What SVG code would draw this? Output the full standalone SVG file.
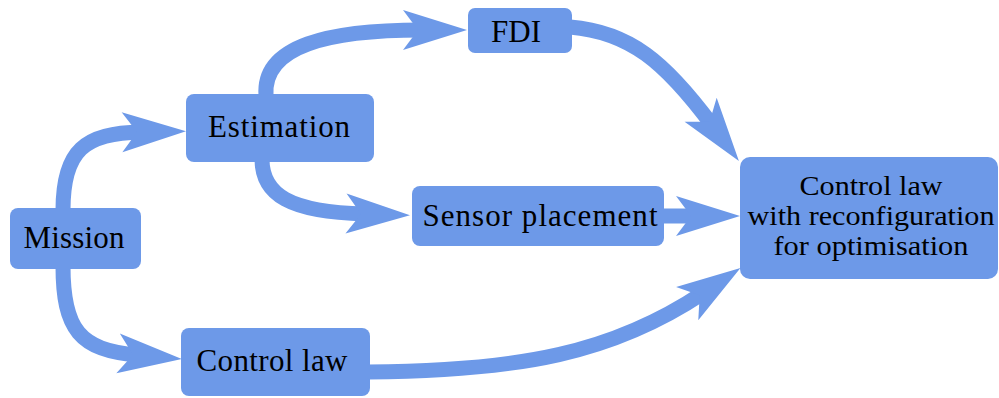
<svg xmlns="http://www.w3.org/2000/svg" width="999" height="398" viewBox="0 0 999 398">
<style>
.box{fill:#6d99e8}
.lbl{font-family:"Liberation Serif","Times New Roman",serif;font-size:31px;fill:#000;text-anchor:middle}
.big{font-size:27px}
.edge{fill:none;stroke:#6d99e8;stroke-width:15}
</style>
<defs>
<marker id="ah" markerUnits="userSpaceOnUse" markerWidth="120" markerHeight="120" refX="0" refY="0" orient="auto" overflow="visible" viewBox="-60 -60 120 120">
<path d="M45,0 L-19,-20 L-4,0 L-19,20 Z" fill="#6d99e8"/>
</marker>
</defs>
<rect width="999" height="398" fill="#fff"/>
<g id="connectors">
<path class="edge" d="M63,210 C63,150 85,133 141,132" marker-end="url(#ah)"/>
<path class="edge" d="M63,266 C63,330 80,350 137,355" marker-end="url(#ah)"/>
<path class="edge" d="M266,96 C262,45 330,30 422,30" marker-end="url(#ah)"/>
<path class="edge" d="M262,159 C262,195 290,212 365,214" marker-end="url(#ah)"/>
<path class="edge" d="M662,216 L695,216" marker-end="url(#ah)"/>
<path class="edge" d="M570,27 C630,32 665,62 712,125" marker-end="url(#ah)"/>
<path class="edge" d="M368,372 C520,371 613,353 703,293" marker-end="url(#ah)"/>
</g>
<g id="mission"><rect class="box" x="10" y="208" width="131" height="61" rx="8"/><text class="lbl" x="74" y="248" textLength="101">Mission</text></g>
<g id="estimation"><rect class="box" x="186" y="94" width="188" height="68" rx="8"/><text class="lbl" x="279" y="137" textLength="142">Estimation</text></g>
<g id="control-law"><rect class="box" x="181" y="328" width="189" height="68" rx="8"/><text class="lbl" x="272" y="371" textLength="151">Control law</text></g>
<g id="fdi"><rect class="box" x="468" y="8" width="104" height="45" rx="7"/><text class="lbl" x="516" y="42">FDI</text></g>
<g id="sensor-placement"><rect class="box" x="412" y="186" width="252" height="60" rx="8"/><text class="lbl" x="540" y="226" textLength="235">Sensor placement</text></g>
<g id="control-reconf"><rect class="box" x="740" y="157" width="258" height="122" rx="10"/>
<text class="lbl big" x="871" y="195" textLength="143" lengthAdjust="spacingAndGlyphs">Control law</text>
<text class="lbl big" x="871" y="225" textLength="247" lengthAdjust="spacingAndGlyphs">with reconfiguration</text>
<text class="lbl big" x="871" y="255" textLength="195" lengthAdjust="spacingAndGlyphs">for optimisation</text></g>
</svg>
